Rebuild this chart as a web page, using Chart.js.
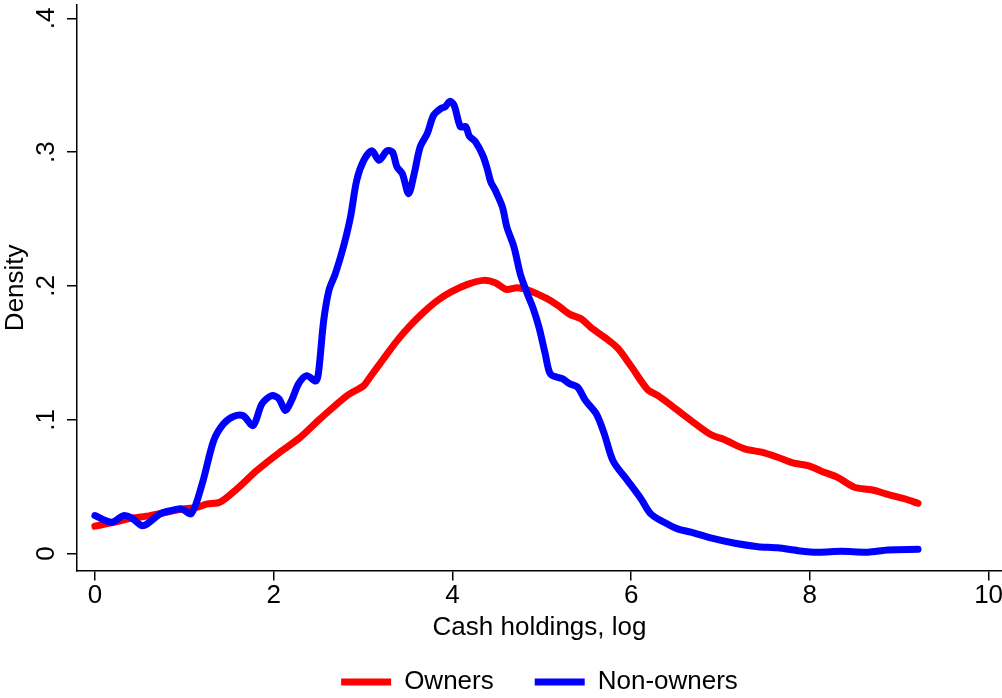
<!DOCTYPE html>
<html>
<head>
<meta charset="utf-8">
<script src="https://cdn.jsdelivr.net/npm/chart.js@4.4.1/dist/chart.umd.min.js"></script>
<style>
    html, body { margin: 0; padding: 0; background: #fff; }
    #wrap { width: 1002px; height: 698px; position: relative; }
</style>
</head>
<body>
<div id="wrap"><canvas id="densityChart"></canvas></div>
<script>
// Kernel density of log cash holdings, owners vs non-owners

const COLORS = {
    owners: '#ff0000',
    nonOwners: '#0000ff',
    axis: '#000000'
};

const xTicks = [0, 2, 4, 6, 8, 10];
const yTicks = [0, 0.1, 0.2, 0.3, 0.4];

// Owners (red)
const ownersX = [0, 0.21, 0.39, 0.58, 0.77, 0.95, 1.14, 1.25, 1.40, 1.59, 1.81, 2.07, 2.30, 2.52, 2.82, 3.01,
    3.08, 3.23, 3.38, 3.53, 3.68, 3.83, 3.98, 4.17, 4.35, 4.48, 4.60, 4.73, 4.86, 5.06, 5.18, 5.31, 5.44,
    5.55, 5.70, 5.85, 6.00, 6.18, 6.30, 6.45, 6.67, 6.89, 7.04, 7.27, 7.46, 7.64, 7.81, 7.98, 8.13, 8.31,
    8.50, 8.69, 8.88, 9.06, 9.21];
const ownersY = [0.0205, 0.0234, 0.0262, 0.0280, 0.0305, 0.0330, 0.0346, 0.0370, 0.0384, 0.0484, 0.0620, 0.0758, 0.0870, 0.1007, 0.1180, 0.1257,
    0.1320, 0.1456, 0.1590, 0.1705, 0.1805, 0.1890, 0.1954, 0.2012, 0.2042, 0.2025, 0.1975, 0.1987, 0.1967, 0.1905, 0.1855, 0.1790, 0.1755,
    0.1690, 0.1618, 0.1535, 0.1400, 0.1230, 0.1180, 0.1107, 0.0995, 0.0890, 0.0853, 0.0783, 0.0758, 0.0720, 0.0678, 0.0658, 0.0616, 0.0570,
    0.0496, 0.0477, 0.0441, 0.0410, 0.0376];

// Non-owners (blue)
const nonOwnersX = [0, 0.19, 0.32, 0.41, 0.52, 0.58, 0.73, 0.84, 0.97, 1.08, 1.20, 1.33, 1.44, 1.55, 1.66, 1.77, 1.87,
    1.98, 2.06, 2.13, 2.20, 2.28, 2.37, 2.47, 2.50, 2.56, 2.62, 2.69, 2.78, 2.86, 2.93, 3.01, 3.10, 3.18,
    3.27, 3.33, 3.38, 3.44, 3.51, 3.57, 3.64, 3.72, 3.79, 3.87, 3.92, 3.97, 4.02, 4.09, 4.15, 4.19, 4.26,
    4.34, 4.39, 4.43, 4.48, 4.56, 4.61, 4.69, 4.76, 4.84, 4.90, 4.97, 5.04, 5.10, 5.23, 5.31, 5.40, 5.49,
    5.61, 5.70, 5.80, 5.96, 6.11, 6.22, 6.37, 6.52, 6.67, 6.89, 7.16, 7.42, 7.64, 7.87, 8.09, 8.35, 8.65,
    8.87, 9.21];
const nonOwnersY = [0.0284, 0.0234, 0.0284, 0.0267, 0.0210, 0.0220, 0.0297, 0.0320, 0.0334, 0.0300, 0.0520, 0.0845, 0.0970, 0.1025, 0.1030, 0.0957, 0.1120,
    0.1180, 0.1157, 0.1070, 0.1144, 0.1270, 0.1330, 0.1290, 0.1340, 0.1740, 0.1970, 0.2090, 0.2290, 0.2515, 0.2790, 0.2940, 0.3010, 0.2940,
    0.3010, 0.3000, 0.2890, 0.2840, 0.2690, 0.2830, 0.3040, 0.3140, 0.3276, 0.3326, 0.3340, 0.3380, 0.3350, 0.3190, 0.3190, 0.3120, 0.3077,
    0.2977, 0.2877, 0.2777, 0.2715, 0.2590, 0.2440, 0.2290, 0.2090, 0.1940, 0.1840, 0.1690, 0.1490, 0.1340, 0.1307, 0.1270, 0.1245, 0.1144,
    0.1045, 0.0895, 0.0690, 0.0546, 0.0410, 0.0297, 0.0234, 0.0185, 0.0160, 0.0117, 0.0077, 0.0052, 0.0043, 0.0022, 0.0010, 0.0017, 0.0010,
    0.0027, 0.0032];

const FONT = { family: 'Arial, "Liberation Sans", sans-serif', size: 26 };
const LEGEND_GAP = 41;   // space between legend entries
const LEGEND_H = 55;     // height reserved for legend row
const LEGEND_LIFT = 15;  // pull the legend row up (padding is large because of the gap)

function toPoints(xs, ys) {
    return xs.map((x, i) => ({ x: x, y: ys[i] }));
}

function yLabel(v) {
    if (v === 0) return '0';
    return v.toFixed(1).replace(/^0/, '');
}

// legend padding sets both horizontal gap and vertical offset, so split them here;
// also centre the row under the plot area instead of the whole canvas
const legendTweak = {
    id: 'legendTweak',
    beforeLayout(chart) {
        const lg = chart.legend;
        if (!lg || lg._tweaked) return;
        lg._tweaked = true;
        const fit = lg.fit.bind(lg);
        lg.fit = function () { fit(); this.height = LEGEND_H; };
        const draw = lg.draw.bind(lg);
        lg.draw = function () {
            const saved = { top: this.top, left: this.left, right: this.right };
            this.top = saved.top - LEGEND_LIFT;
            this.left = chart.chartArea.left;
            this.right = chart.chartArea.right;
            draw();
            Object.assign(this, saved);
        };
    }
};

Chart.defaults.color = COLORS.axis;
Chart.defaults.font.family = FONT.family;
Chart.defaults.font.size = FONT.size;

const ctx = document.getElementById('densityChart').getContext('2d');

const chart = new Chart(ctx, {
    type: 'line',
    data: {
        datasets: [
            {
                label: 'Owners',
                data: toPoints(ownersX, ownersY),
                borderColor: COLORS.owners,
                backgroundColor: COLORS.owners,
                borderWidth: 7,
                pointRadius: 0,
                tension: 0.3,
                borderCapStyle: 'round',
                borderJoinStyle: 'round',
                order: 1
            },
            {
                label: 'Non-owners',
                data: toPoints(nonOwnersX, nonOwnersY),
                borderColor: COLORS.nonOwners,
                backgroundColor: COLORS.nonOwners,
                borderWidth: 7,
                pointRadius: 0,
                tension: 0.3,
                borderCapStyle: 'round',
                borderJoinStyle: 'round',
                order: 0
            }
        ]
    },
    plugins: [legendTweak],
    options: {
        responsive: true,
        maintainAspectRatio: false,
        animation: false,
        layout: { padding: { top: 5, right: 0, left: 0, bottom: 0 } },
        plugins: {
            tooltip: { enabled: false },
            legend: {
                position: 'bottom',
                labels: {
                    boxWidth: 50,
                    boxHeight: 7,
                    padding: LEGEND_GAP,
                    color: COLORS.axis,
                    font: FONT,
                    sort: (a, b) => a.datasetIndex - b.datasetIndex,
                    generateLabels: (c) => Chart.defaults.plugins.legend.labels.generateLabels(c)
                        .map(item => Object.assign(item, { lineWidth: 0 }))
                }
            }
        },
        scales: {
            x: {
                type: 'linear',
                min: -0.2,
                max: 10.15,
                afterBuildTicks: (scale) => { scale.ticks = xTicks.map(v => ({ value: v })); },
                afterFit: (scale) => { scale.paddingLeft = 0; scale.paddingRight = 0; },
                grid: { drawOnChartArea: false, drawTicks: true, tickLength: 10, color: COLORS.axis, lineWidth: 1.5 },
                border: { display: true, color: COLORS.axis, width: 1.5 },
                ticks: { color: COLORS.axis, font: FONT, padding: 0, maxRotation: 0, autoSkip: false },
                title: { display: true, text: 'Cash holdings, log', color: COLORS.axis, font: FONT, padding: { top: 0, bottom: 0 } }
            },
            y: {
                type: 'linear',
                min: -0.0127,
                max: 0.41,
                afterBuildTicks: (scale) => { scale.ticks = yTicks.map(v => ({ value: v })); },
                afterFit: (scale) => { scale.width = 77; scale.paddingTop = 0; scale.paddingBottom = 0; },
                grid: { drawOnChartArea: false, drawTicks: true, tickLength: 10, color: COLORS.axis, lineWidth: 1.5 },
                border: { display: true, color: COLORS.axis, width: 1.5 },
                ticks: {
                    color: COLORS.axis, font: FONT, padding: 9,
                    minRotation: 90, maxRotation: 90, crossAlign: 'center',
                    autoSkip: false, callback: (v) => yLabel(v)
                },
                title: { display: true, text: 'Density', color: COLORS.axis, font: FONT, padding: { top: 0, bottom: 0 } }
            }
        }
    }
});
</script>
</body>
</html>
